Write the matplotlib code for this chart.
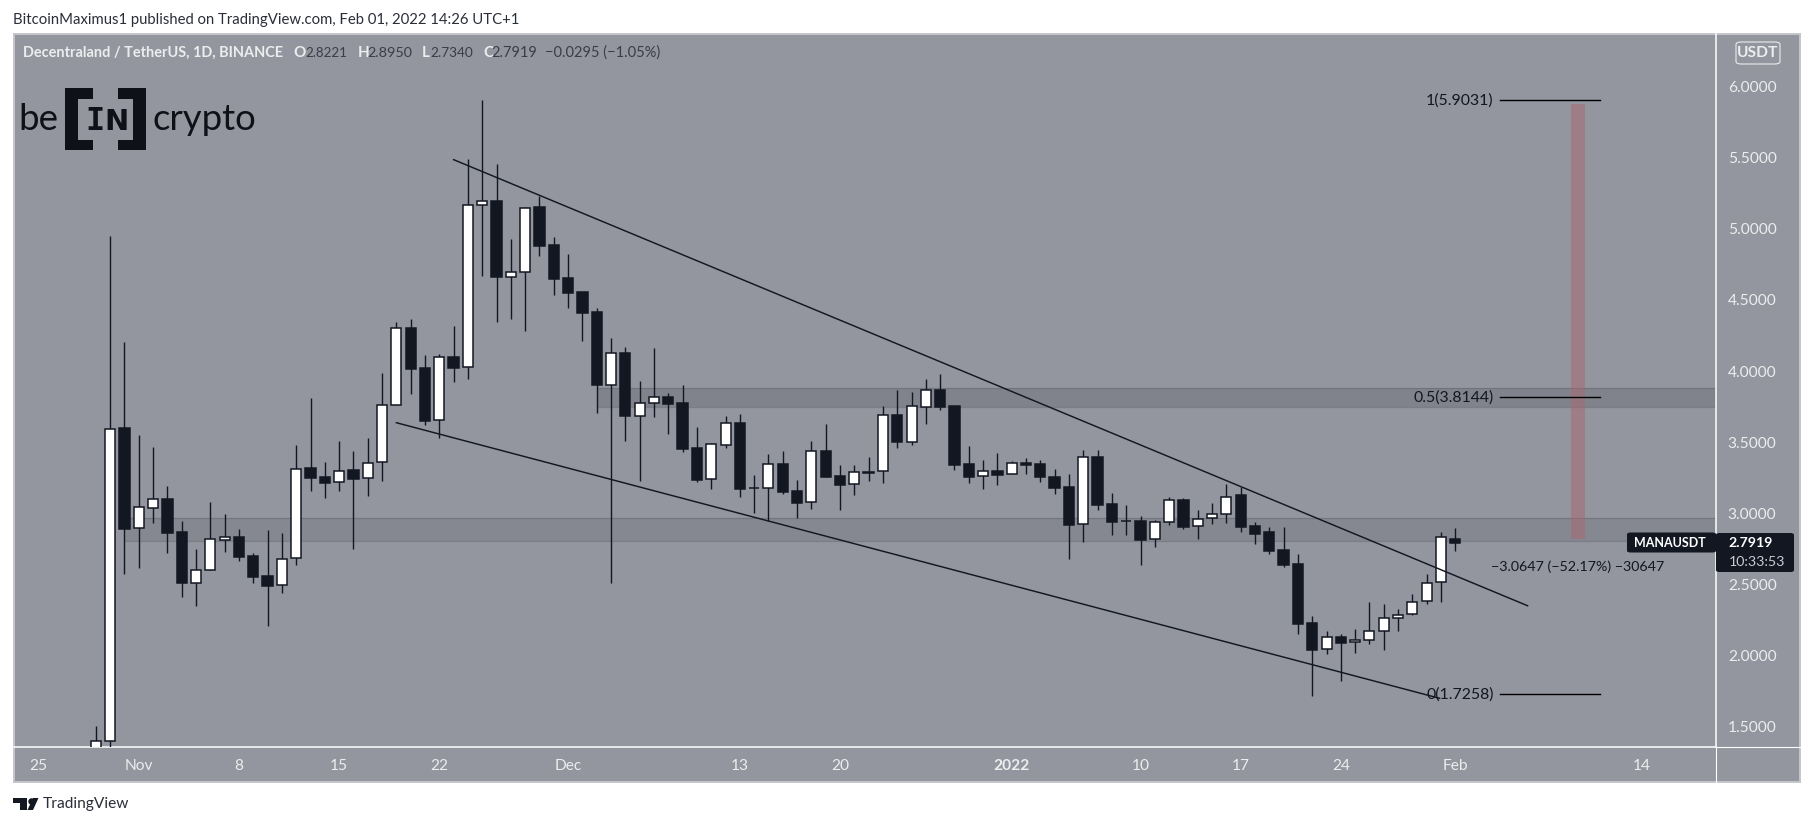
import numpy as np
import matplotlib
matplotlib.use("Agg")
import matplotlib.pyplot as plt
from matplotlib.patches import Rectangle, FancyBboxPatch, Polygon

# ---- data (days counted from 1 Nov 2021) ----
first_day = -3
opens = [1.30,1.401,3.5975,2.894,3.040,3.098,2.866,2.508,2.599,2.815,2.831,2.700,2.559,2.493,2.683,3.316,3.253,3.218,3.302,3.246,3.358,
 3.759,4.301,4.020,3.654,4.097,4.027,5.166,5.194,4.664,4.695,5.152,4.885,4.653,4.554,4.414,3.904,4.127,3.687,3.773,3.815,3.776,3.459,
 3.239,3.483,3.635,3.175,3.175,3.347,3.154,3.077,3.438,3.262,3.204,3.293,3.295,3.691,3.504,3.750,3.867,3.754,3.347,3.265,3.297,3.274,
 3.354,3.347,3.255,3.185,2.922,3.396,3.065,2.946,2.946,2.817,2.936,3.091,2.908,2.965,2.993,3.126,2.911,2.866,2.740,2.643,2.226,2.043,
 2.128,2.093,2.107,2.170,2.261,2.290,2.381,2.515,2.8221]
highs = [1.504,4.95,4.207,3.551,3.469,3.192,2.946,2.749,3.08,2.995,2.887,2.719,2.882,2.861,3.48,3.809,3.361,3.508,3.438,3.53,3.985,
 4.346,4.364,4.113,4.121,4.317,5.489,5.9031,5.457,4.929,5.152,5.232,4.941,4.824,4.554,4.442,4.23,4.167,3.93,4.16,3.846,3.9,3.607,
 3.494,3.684,3.698,3.267,3.417,3.438,3.234,3.508,3.628,3.34,3.34,3.396,3.754,3.867,3.853,3.944,3.979,3.754,3.473,3.375,3.424,3.368,
 3.389,3.375,3.311,3.276,3.445,3.445,3.14,3.058,2.979,2.95,3.112,3.105,3.023,3.075,3.206,3.187,2.939,2.901,2.901,2.714,2.278,2.172,
 2.149,2.184,2.376,2.362,2.325,2.432,2.571,2.866,2.895]
lows = [1.25,1.25,2.573,2.618,2.934,2.723,2.414,2.35,2.599,2.73,2.665,2.512,2.21,2.442,2.639,3.159,3.11,3.159,2.751,3.122,3.229,
 3.759,3.842,3.623,3.532,3.926,3.942,4.671,4.348,4.364,4.285,4.812,4.538,4.446,4.214,3.708,2.512,3.511,3.229,3.68,3.56,3.429,3.222,
 3.173,3.461,3.117,3.004,2.946,3.133,2.967,3.032,3.258,3.023,3.131,3.227,3.213,3.461,3.483,3.628,3.726,3.304,3.215,3.171,3.201,3.274,
 3.276,3.222,3.138,2.681,2.8,3.023,2.847,2.847,2.639,2.765,2.918,2.892,2.822,2.925,2.934,2.871,2.786,2.716,2.625,2.153,1.718,2.008,
 1.823,2.02,2.079,2.041,2.175,2.282,2.364,2.376,2.734]
closes = [1.401,3.59,2.892,3.042,3.098,2.864,2.512,2.599,2.817,2.831,2.695,2.554,2.491,2.676,3.314,3.251,3.215,3.295,3.244,3.351,3.759,
 4.301,4.017,3.651,4.097,4.024,5.166,5.194,4.664,4.695,5.145,4.882,4.650,4.552,4.411,3.902,4.125,3.687,3.773,3.815,3.771,3.454,3.234,
 3.485,3.633,3.173,3.175,3.344,3.152,3.075,3.436,3.258,3.201,3.288,3.286,3.689,3.501,3.752,3.865,3.747,3.342,3.258,3.295,3.272,3.351,
 3.342,3.258,3.180,2.920,3.393,3.061,2.941,2.946,2.815,2.936,3.091,2.906,2.962,2.993,3.117,2.906,2.857,2.737,2.636,2.224,2.041,2.128,
 2.090,2.107,2.170,2.261,2.287,2.379,2.512,2.831,2.7919]

price_ticks = [6.0,5.5,5.0,4.5,4.0,3.5,3.0,2.5,2.0,1.5]
date_ticks = [-7,0,7,14,21,30,42,49,61,70,77,84,92,105]
date_labels = ["25","Nov","8","15","22","Dec","13","20","2022","10","17","24","Feb","14"]
upper_days, upper_prices = [22.0,97.05],[5.487,2.350]
lower_days, lower_prices = [18.0,90.9],[3.637,1.699]
band_high = [3.879,2.965]
band_low = [3.745,2.808]
band_start = [32,-1]
band_alpha = [0.30,0.22]
fib_levels = [5.9031,3.8144,1.7258]
fib_labels = ["1(5.9031)","0.5(3.8144)","0(1.7258)"]
fib_days = [95.1,102.1]
target_days = [100.08,101.06]
target_prices = [2.82,5.875]
last_close = 2.7919

W,H = 1813,826
BG = "#93959f"; DARK = "#131722"; LIGHT = "#eceded"
plt.rcParams["font.family"] = ["Lato","DejaVu Sans"]
fig = plt.figure(figsize=(W/100,H/100),dpi=100,facecolor="white")
renderer = fig.canvas.get_renderer()
def px_axes(l,t,r,b,**kw):
    return fig.add_axes([l/W,1-b/H,(r-l)/W,(b-t)/H],**kw)
def fx(x): return x/W
def fy(y): return 1-y/H
def fit(t,width):
    """Scale a text so that it spans the given pixel width."""
    t.set_fontsize(t.get_fontsize()*width/t.get_window_extent(renderer).width)
    return t

panel = px_axes(14,34,1800,782,facecolor=BG)
panel.set_xticks([]); panel.set_yticks([])
for s in panel.spines.values():
    s.set_color("#c4c6cc"); s.set_linewidth(1.4)

ax = px_axes(14,34,1716,747,facecolor="none")
ax.set_xlim((14-138.8)/14.31,(1716-138.8)/14.31)
ax.set_ylim(6-(747-86.7)/142.2,6+(86.7-34)/142.2)
for k in ("top","left"): ax.spines[k].set_visible(False)
for k in ("right","bottom"):
    ax.spines[k].set_color("white"); ax.spines[k].set_linewidth(1.1)
ax.yaxis.tick_right()
ax.set_yticks(price_ticks,[f"{v:.4f}" for v in price_ticks])
ax.set_xticks(date_ticks,date_labels)
ax.tick_params(axis="y",length=0,pad=8.5,labelsize=11.2,labelcolor=LIGHT)
ax.tick_params(axis="x",length=0,pad=8.5,labelsize=11.2,labelcolor=LIGHT)
for lb in ax.get_xticklabels():
    if lb.get_text()=="2022": lb.set_fontweight("bold")
fig.add_artist(plt.Line2D([fx(1716)]*2,[fy(747),fy(782)],color="white",lw=0.8))
fig.add_artist(plt.Line2D([fx(1716),fx(1800)],[fy(747)]*2,color="white",lw=0.8))

x = np.arange(len(closes))+first_day
o,h,l,c = map(np.array,(opens,highs,lows,closes))
x0,x1 = ax.get_xlim()
for hi,lo,st,al in zip(band_high,band_low,band_start,band_alpha):
    ax.axhspan(lo,hi,xmin=(st-x0)/(x1-x0),xmax=1,facecolor="#585a63",alpha=al,lw=0,zorder=1)
    ax.hlines([lo,hi],st,x1,color="#5f616a",alpha=0.45,lw=0.9,zorder=1)
ax.vlines(x,l,h,color=DARK,lw=1.0,zorder=3)
up = c>=o
top = np.maximum(o,c); bot = np.minimum(o,c)
ax.bar(x[up],top[up]-bot[up],0.70,bot[up],facecolor="white",edgecolor=DARK,lw=1.1,zorder=4)
ax.bar(x[~up],top[~up]-bot[~up],0.72,bot[~up],facecolor=DARK,edgecolor=DARK,lw=1.1,zorder=4)
ax.plot(upper_days,upper_prices,color=DARK,lw=1.05,zorder=5)
ax.plot(lower_days,lower_prices,color=DARK,lw=1.05,zorder=5)
ax.fill_between(target_days,target_prices[0],target_prices[1],facecolor="#a8666f",alpha=0.5,lw=0,zorder=6)
for lev,lab in zip(fib_levels,fib_labels):
    ax.plot(fib_days,[lev,lev],color="black",lw=1.0,zorder=6)
    ax.annotate(lab,(fib_days[0],lev),xytext=(-4.3,0),textcoords="offset points",ha="right",va="center",
                fontsize=11.4,color=DARK,zorder=7)
fit(fig.text(fx(1491),fy(567),"\u22123.0647 (\u221252.17%) \u221230647",ha="left",va="center",fontsize=11.5,color=DARK,zorder=7),174)

# header / legend text
fit(fig.text(fx(13),fy(20),"BitcoinMaximus1 published on TradingView.com, Feb 01, 2022 14:26 UTC+1",
         fontsize=11.2,color="#2a2e39",va="center"),503)
VAL = "#3a3d47"
fit(fig.text(fx(23),fy(53),"Decentraland / TetherUS, 1D, BINANCE",fontsize=11.2,color=LIGHT,va="center",weight="bold"),261)
legend_keys = [(293,"O"),(358,"H"),(422,"L"),(483,"C")]
legend_vals = [(305,"2.8221",42),(367,"2.8950",45),(430,"2.7340",43),(491,"2.7919",46),(545,"\u22120.0295 (\u22121.05%)",115)]
for px,t in legend_keys:
    fig.text(fx(px),fy(53),t,fontsize=11,color=LIGHT,va="center",weight="bold")
for px,t,wd in legend_vals:
    fit(fig.text(fx(px),fy(53),t,fontsize=11,color=VAL,va="center"),wd)

# logo
LOGO = "#0e1118"
def frect(l,t,r,b,color=LOGO):
    fig.add_artist(Rectangle((fx(l),fy(b)),(r-l)/W,(b-t)/H,transform=fig.transFigure,facecolor=color,edgecolor="none",zorder=8))
frect(65,88,77.5,150); frect(65,88,92.5,98.5); frect(65,139.5,92.5,150)
frect(133,88,145.7,150); frect(118,88,145.7,98.5); frect(118,139.5,145.7,150)
fit(fig.text(fx(18),fy(130),"be",fontsize=28,color=LOGO,va="baseline",zorder=8),40)
fit(fig.text(fx(152),fy(130),"crypto",fontsize=28,color=LOGO,va="baseline",zorder=8),104)
fig.text(fx(95),fy(130),"I",fontsize=23,family="DejaVu Sans Mono",color=LOGO,va="baseline",ha="center",weight="bold",zorder=8)
fig.text(fx(116.5),fy(130),"N",fontsize=21,family="DejaVu Sans",color=LOGO,va="baseline",ha="center",weight="bold",zorder=8)

# price tags
def tag(l,t,r,b):
    fig.add_artist(FancyBboxPatch((fx(l),fy(b)),(r-l)/W,(b-t)/H,boxstyle="round,pad=0,rounding_size=0.002",
                   transform=fig.transFigure,facecolor=DARK,edgecolor="none",zorder=8))
tag(1627,532.5,1716,552.5); tag(1716,533,1794,572)
fit(fig.text(fx(1634),fy(543),"MANAUSDT",fontsize=11.5,color="white",va="center",weight="bold",zorder=9),72)
fit(fig.text(fx(1728),fy(543),f"{last_close:.4f}",fontsize=11.2,color="white",va="center",weight="bold",zorder=9),44.5)
fit(fig.text(fx(1729),fy(562),"10:33:53",fontsize=11.2,color="#c9cbd1",va="center",zorder=9),56)
# currency badge
fig.add_artist(FancyBboxPatch((fx(1736),fy(64)),44/W,22/H,boxstyle="round,pad=0,rounding_size=0.003",
               transform=fig.transFigure,facecolor="none",edgecolor=LIGHT,lw=0.8,zorder=8))
fig.text(fx(1758),fy(53),"USDT",fontsize=11.2,color=LIGHT,va="center",ha="center",weight="bold",zorder=9)

# footer logo
for pts in ([(13,798),(27,798),(27,810),(20,810),(20,803),(13,803)],[(33,798),(38.5,798),(33,810),(27.5,810)]):
    fig.add_artist(Polygon([(fx(a),fy(b)) for a,b in pts],transform=fig.transFigure,facecolor=DARK,edgecolor="none"))
fig.add_artist(plt.Line2D([fx(30.5)],[fy(800.5)],marker="o",ms=3.6,color=DARK,lw=0))
fit(fig.text(fx(42.7),fy(804),"TradingView",fontsize=12.5,color="#2a2e39",va="center"),86)
fig.savefig("out.png",dpi=100)
